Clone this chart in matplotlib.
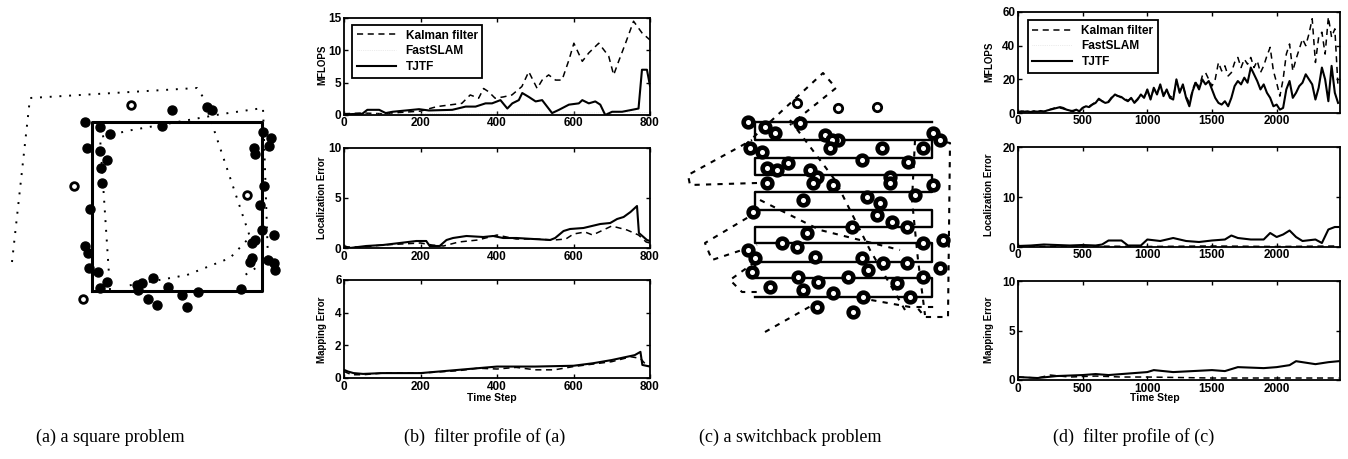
import numpy as np
import matplotlib
matplotlib.use("Agg")
import matplotlib.pyplot as plt

W, H = 1348, 459

# ---------------- (a) square problem, map units ----------------
sq_x = [0, 170, 170, 0, 0]
sq_y = [0, 0, 169, 169, 0]
a_lm_x = [-7, 8, 18, -5, 8, 15, 9, 10, -2, -7, -4, -3, 6, 15, 8, 45, 50, 61, 46, 56,
          65, 76, 90, 95, 106, 149, 70, 80, 115, 120, 171, 179, 177, 162, 163, 172,
          168, 170, 182, 163, 160, 158, 160, 176, 182, 183]
a_lm_y = [169, 164, 157, 143, 140, 131, 123, 108, 82, 45, 38, 23, 19, 9, 3, 6, 8, 13, 1, -8,
          -14, 4, -4, -16, -1, 2, 165, 181, 184, 181, 159, 153, 145, 143, 137, 105,
          86, 61, 56, 51, 48, 29, 33, 31, 28, 21]
a_open_x = [-18, 39, 155, -9]
a_open_y = [105, 186, 96, -8]
a_est1_x = [18, 8, 40, 91, 130, 171, 176, 150]
a_est1_y = [1, 154, 161, 170, 177, 183, 31, 14]
a_est2_x = [-80, -62, 105, 111, 158, 138, 95, 34]
a_est2_y = [29, 193, 203, 194, 54, 33, 16, 5]

# ---------------- (c) switchback problem, map units ----------------
row_y = [175, 157, 139, 122, 105, 87, 70, 54, 35, 19, 0]
row_left, row_right = 0, 177
c_lm_x = [-7, 10, 20, 83, 70, 45, 77, 75, -5, 7, 127, 168, 178, 185, 12, 22, 33, 55,
          62, 107, 153, 135, 12, 58, 78, 135, 178, 48, 112, 125, 160, -2, 122, 137,
          152, 97, 52, 27, 42, 188, 168, -7, 0, 60, 107, 128, 113, 152, 185, -3, 43,
          63, 93, 15, 48, 78, 108, 155, 62, 98, 142, 168]
c_lm_y = [175, 170, 164, 157, 162, 174, 157, 149, 149, 145, 149, 149, 164, 157, 129, 127,
          134, 127, 120, 137, 135, 120, 114, 114, 112, 114, 112, 97, 100, 94, 102, 85,
          82, 75, 70, 70, 64, 54, 50, 57, 54, 47, 39, 40, 39, 34, 27, 34, 29, 25, 20,
          15, 20, 10, 7, 4, 0, 0, -10, -15, 14, 20]
c_open_x = [42, 83, 122]
c_open_y = [194, 189, 190]
c_est = [
    ([-10, 68, 81, 35], [152, 224, 209, 172]),
    ([2, -65, -67, -3], [114, 112, 122, 157]),
    ([2, -50, -43, 2], [85, 54, 37, 52]),
    ([0, -25, -13, 5], [35, 17, 5, 5]),
    ([10, 63], [-35, -5]),
    ([180, 195, 193, 170, 160], [157, 154, -20, -20, -8]),
    ([35, 80, 115, 150], [177, 117, 47, -13]),
    ([5, 65, 145], [97, 67, 47]),
    ([160, 157, 163, 170], [157, 97, 37, -18]),
    ([105, 155, 180], [-1, -10, -10]),
]

# ---------------- (b) filter profile of (a) ----------------
b_flops_kf_t = [0, 50, 100, 150, 200, 243, 308, 330, 352, 365, 378, 395, 417, 439, 465, 483,
                505, 518, 535, 553, 570, 588, 601, 623, 640, 666, 692, 705, 718, 736, 757, 779, 800]
b_flops_kf = [0.2, 0.3, 0.2, 0.4, 0.6, 1.3, 1.8, 3.1, 2.6, 4.1, 3.6, 2.6, 2.8, 3.1, 4.4, 6.7,
              4.1, 5.4, 6.2, 5.4, 5.4, 8.5, 11.1, 8.3, 9.6, 11.1, 9.1, 6.2, 8.3, 11.1, 14.5, 12.7, 11.6]
b_flops_tj_t = [0, 48, 61, 92, 109, 127, 179, 196, 222, 283, 318, 344, 370, 387, 409, 427, 440,
                457, 466, 483, 501, 518, 544, 562, 588, 614, 623, 640, 657, 670, 683, 701, 727,
                753, 770, 779, 792, 800]
b_flops_tj = [0.1, 0.2, 0.8, 0.8, 0.3, 0.5, 0.8, 0.9, 0.7, 0.8, 1.3, 1.3, 1.8, 1.8, 2.3, 1.0, 1.8,
              2.3, 3.4, 2.8, 2.1, 2.3, 0.3, 0.8, 1.6, 1.8, 2.3, 1.8, 2.1, 1.6, 0.0, 0.5, 0.5,
              0.8, 1.0, 7.0, 7.0, 4.5]
b_flops_fs_t = [0, 200, 400, 600, 800]
b_flops_fs = [0.1, 0.2, 0.3, 0.3, 0.4]

b_loc_tj_t = [0, 15, 58, 102, 146, 189, 215, 224, 250, 268, 285, 320, 364, 390, 416, 451, 495,
              539, 552, 574, 591, 626, 670, 696, 714, 731, 749, 766, 771, 792, 800]
b_loc_tj = [0.2, 0.0, 0.2, 0.3, 0.5, 0.7, 0.7, 0.2, 0.2, 0.8, 1.0, 1.2, 1.1, 1.2, 1.0, 1.0, 0.9,
            0.8, 1.0, 1.7, 1.9, 2.0, 2.4, 2.5, 2.9, 3.1, 3.6, 4.2, 1.5, 0.8, 0.7]
b_loc_kf_t = [0, 50, 100, 150, 200, 230, 260, 300, 350, 400, 450, 500, 550, 580, 600, 630, 650,
              700, 740, 770, 790, 800]
b_loc_kf = [0.1, 0.1, 0.3, 0.4, 0.5, 0.3, 0.2, 0.6, 0.8, 1.3, 0.9, 0.9, 0.8, 0.9, 1.4, 1.6, 1.3,
            2.2, 1.8, 1.3, 0.6, 0.5]

b_map_tj_t = [0, 10, 25, 50, 100, 200, 300, 400, 500, 600, 650, 700, 760, 775, 780, 800]
b_map_tj = [0.5, 0.4, 0.3, 0.25, 0.3, 0.3, 0.5, 0.7, 0.7, 0.75, 0.9, 1.1, 1.4, 1.6, 0.8, 0.7]
b_map_kf_t = [0, 20, 50, 100, 200, 300, 350, 400, 450, 500, 550, 600, 650, 700, 750, 775, 790, 800]
b_map_kf = [0.4, 0.2, 0.2, 0.3, 0.3, 0.45, 0.6, 0.55, 0.65, 0.5, 0.5, 0.7, 0.85, 1.0, 1.3, 1.2, 0.8, 0.7]

# ---------------- (d) filter profile of (c) ----------------
d_steps = np.arange(0, 2500, 25)
d_flops_tj = [0.5, 1, 0.8, 1, 0.5, 1, 0.8, 1.2, 0.8, 1.5,
              2, 2.5, 3, 3.5, 3, 2, 1.5, 1, 2, 1,
              3, 4, 3.5, 5, 6, 8.5, 7, 6, 6.5, 9,
              11, 10, 9.5, 8, 7, 9, 6, 8, 11, 9,
              14, 8, 15, 11, 17, 10, 14, 9, 8, 20,
              12, 17, 9, 4, 13, 18, 14, 20, 17, 19,
              14, 9, 6, 5, 7, 4, 9, 16, 19, 17,
              21, 18, 27, 23, 19, 14, 17, 12, 9, 4,
              5, 2, 3, 14, 19, 9, 12, 16, 18, 23,
              20, 17, 8, 15, 27, 20, 7, 28, 12, 6]
d_flops_kf = [0.3, 0.8, 1, 0.6, 0.8, 1.2, 0.6, 1, 1, 1.3,
              2.2, 2.8, 3.2, 3, 2.5, 1.8, 1.2, 1.5, 1.8, 1.2,
              3.2, 3.8, 4, 5.2, 6.5, 8, 7.2, 6.2, 7, 9.5,
              10.5, 10.2, 9, 8.5, 7.5, 8.5, 6.5, 8.5, 10.5, 9.5,
              13, 9, 14, 12, 16, 11, 13, 10, 9, 19,
              13, 16, 10, 6, 14, 19, 15, 22, 24, 20,
              16, 20, 30, 25, 28, 22, 24, 30, 33, 27,
              32, 29, 33, 27, 31, 24, 28, 34, 39, 25,
              18, 10, 20, 35, 41, 25, 32, 38, 44, 40,
              47, 56, 30, 45, 48, 35, 57, 45, 50, 15]

d_loc_tj_t = [0, 100, 200, 300, 400, 500, 600, 650, 700, 800, 850, 950, 1000, 1100, 1200, 1300,
              1400, 1500, 1600, 1650, 1700, 1800, 1900, 1950, 2000, 2050, 2100, 2150, 2200,
              2300, 2350, 2400, 2450, 2480]
d_loc_tj = [0.2, 0.3, 0.5, 0.4, 0.3, 0.4, 0.3, 0.5, 1.3, 1.3, 0.3, 0.3, 1.5, 1.2, 1.8, 1.2,
            1.0, 1.3, 1.5, 2.3, 1.8, 1.5, 1.5, 2.8, 2.0, 2.5, 3.3, 2.0, 1.2,
            1.5, 0.8, 3.5, 4.0, 4.0]
d_loc_kf_t = [0, 500, 1000, 1500, 2000, 2480]
d_loc_kf = [0.1, 0.2, 0.1, 0.2, 0.1, 0.2]

d_map_tj_t = [0, 150, 300, 500, 600, 700, 900, 1000, 1050, 1200, 1500, 1600, 1700, 1900, 2000,
              2100, 2150, 2300, 2400, 2480]
d_map_tj = [0.3, 0.2, 0.4, 0.5, 0.6, 0.5, 0.7, 0.8, 1.0, 0.8, 1.0, 0.9, 1.3, 1.2, 1.3,
            1.5, 1.9, 1.6, 1.8, 1.9]
d_map_kf_t = [0, 150, 250, 400, 600, 800, 1000, 1500, 2000, 2480]
d_map_kf = [0.3, 0.2, 0.5, 0.3, 0.4, 0.3, 0.3, 0.2, 0.2, 0.2]

captions = ["(a) a square problem", "(b)  filter profile of (a)",
            "(c) a switchback problem", "(d)  filter profile of (c)"]

SANS = "Liberation Sans"
SERIF = "Liberation Serif"


def px_rect(l, t, r, b):
    return [l / W, 1 - b / H, (r - l) / W, (b - t) / H]


fig = plt.figure(figsize=(W / 100, H / 100), dpi=100)

# (a)
ax = fig.add_axes(px_rect(0, 60, 300, 330))
ax.plot(sq_x, sq_y, color="black", lw=2.2)
ax.plot(a_est1_x, a_est1_y, color="black", lw=1.4, ls=(0, (1, 4)))
ax.plot(a_est2_x, a_est2_y, color="black", lw=1.4, ls=(0, (1, 4)))
ax.plot(a_lm_x, a_lm_y, "o", color="black", ms=6.5, ls="none")
ax.plot(a_open_x, a_open_y, "o", mfc="white", mec="black", mew=2, ms=5.5, ls="none")
ax.set_xlim(-92, 208)
ax.set_ylim(-39, 231)
ax.axis("off")

# (c)
ax = fig.add_axes(px_rect(640, 50, 980, 360))
px, py = [], []
for k, y in enumerate(row_y):
    xs = [row_right, row_left] if k % 2 == 0 else [row_left, row_right]
    px += xs
    py += [y, y]
ax.plot(px, py, color="black", lw=1.7)
for ex, ey in c_est:
    ax.plot(ex, ey, color="black", lw=1.5, ls=(0, (2.5, 3)))
ax.plot(c_lm_x, c_lm_y, "o", mfc="white", mec="black", mew=3.3, ms=7, ls="none")
ax.plot(c_open_x, c_open_y, "o", mfc="white", mec="black", mew=2, ms=6, ls="none")
ax.set_xlim(-115, 225)
ax.set_ylim(-63, 247)
ax.axis("off")


def profile_axis(rect, ylim, yticks, xlim, xticks):
    a = fig.add_axes(px_rect(*rect))
    a.set_xlim(*xlim)
    a.set_ylim(*ylim)
    a.set_xticks(xticks)
    a.set_yticks(yticks)
    a.tick_params(direction="in", length=3, width=1, top=True, right=True,
                  labelsize=8.5, pad=1.8)
    for lab in a.get_xticklabels() + a.get_yticklabels():
        lab.set_fontfamily(SANS)
        lab.set_fontweight("bold")
    for s in a.spines.values():
        s.set_linewidth(1.3)
    return a


kf_style = dict(color="black", lw=1.1, ls=(0, (4, 3)))
tj_style = dict(color="black", lw=1.5)
fs_style = dict(color="0.85", lw=0.5, ls=":")
leg_style = dict(loc="upper left", borderaxespad=0, frameon=True, fancybox=False,
                 framealpha=1, edgecolor="black",
                 prop={"family": SANS, "weight": "bold", "size": 8.6},
                 handlelength=3.3, borderpad=0.4, labelspacing=0.3, handletextpad=0.8)

# (b)
bx = [0, 200, 400, 600, 800]
ax = profile_axis((344, 18, 650, 115), (0, 15), [0, 5, 10, 15], (0, 800), bx)
ax.plot(b_flops_kf_t, b_flops_kf, label="Kalman filter", **kf_style)
ax.plot(b_flops_fs_t, b_flops_fs, label="FastSLAM", **fs_style)
ax.plot(b_flops_tj_t, b_flops_tj, label="TJTF", **tj_style)
leg = ax.legend(bbox_to_anchor=(0.026, 0.93), **leg_style)
leg.get_frame().set_linewidth(1.3)

ax = profile_axis((344, 148, 650, 248), (0, 10), [0, 5, 10], (0, 800), bx)
ax.plot(b_loc_kf_t, b_loc_kf, **kf_style)
ax.plot(b_loc_tj_t, b_loc_tj, **tj_style)

ax = profile_axis((344, 280, 650, 378), (0, 6), [0, 2, 4, 6], (0, 800), bx)
ax.plot(b_map_kf_t, b_map_kf, **kf_style)
ax.plot(b_map_tj_t, b_map_tj, **tj_style)

# (d)
dx = [0, 500, 1000, 1500, 2000]
ax = profile_axis((1018, 12, 1340, 113), (0, 60), [0, 20, 40, 60], (0, 2490), dx)
ax.plot(d_steps, d_flops_kf, label="Kalman filter", **kf_style)
ax.plot(b_flops_fs_t, b_flops_fs, label="FastSLAM", **fs_style)
ax.plot(d_steps, d_flops_tj, label="TJTF", **tj_style)
leg = ax.legend(bbox_to_anchor=(0.03, 0.92), **leg_style)
leg.get_frame().set_linewidth(1.3)

ax = profile_axis((1018, 147, 1340, 247), (0, 20), [0, 10, 20], (0, 2490), dx)
ax.plot(d_loc_kf_t, d_loc_kf, **kf_style)
ax.plot(d_loc_tj_t, d_loc_tj, **tj_style)

ax = profile_axis((1018, 281, 1340, 380), (0, 10), [0, 5, 10], (0, 2490), dx)
ax.plot(d_map_kf_t, d_map_kf, **kf_style)
ax.plot(d_map_tj_t, d_map_tj, **tj_style)

# axis labels
lab = dict(family=SANS, weight="bold", size=7, rotation=90, ha="center", va="center")
for x0, ys in ((322, (65, 198, 330)), (989, (62, 195, 330))):
    for y0, t in zip(ys, ("MFLOPS", "Localization Error", "Mapping Error")):
        fig.text(x0 / W, 1 - y0 / H, t, **lab)
for x0 in (492, 1155):
    fig.text(x0 / W, 1 - 398 / H, "Time Step", family=SANS, weight="bold", size=7.5,
             ha="center", va="center")

for x0, t in zip((110, 485, 790, 1134), captions):
    fig.text(x0 / W, 1 - 437 / H, t, family=SERIF, size=13, ha="center", va="center")

fig.savefig("out.png", dpi=100)
